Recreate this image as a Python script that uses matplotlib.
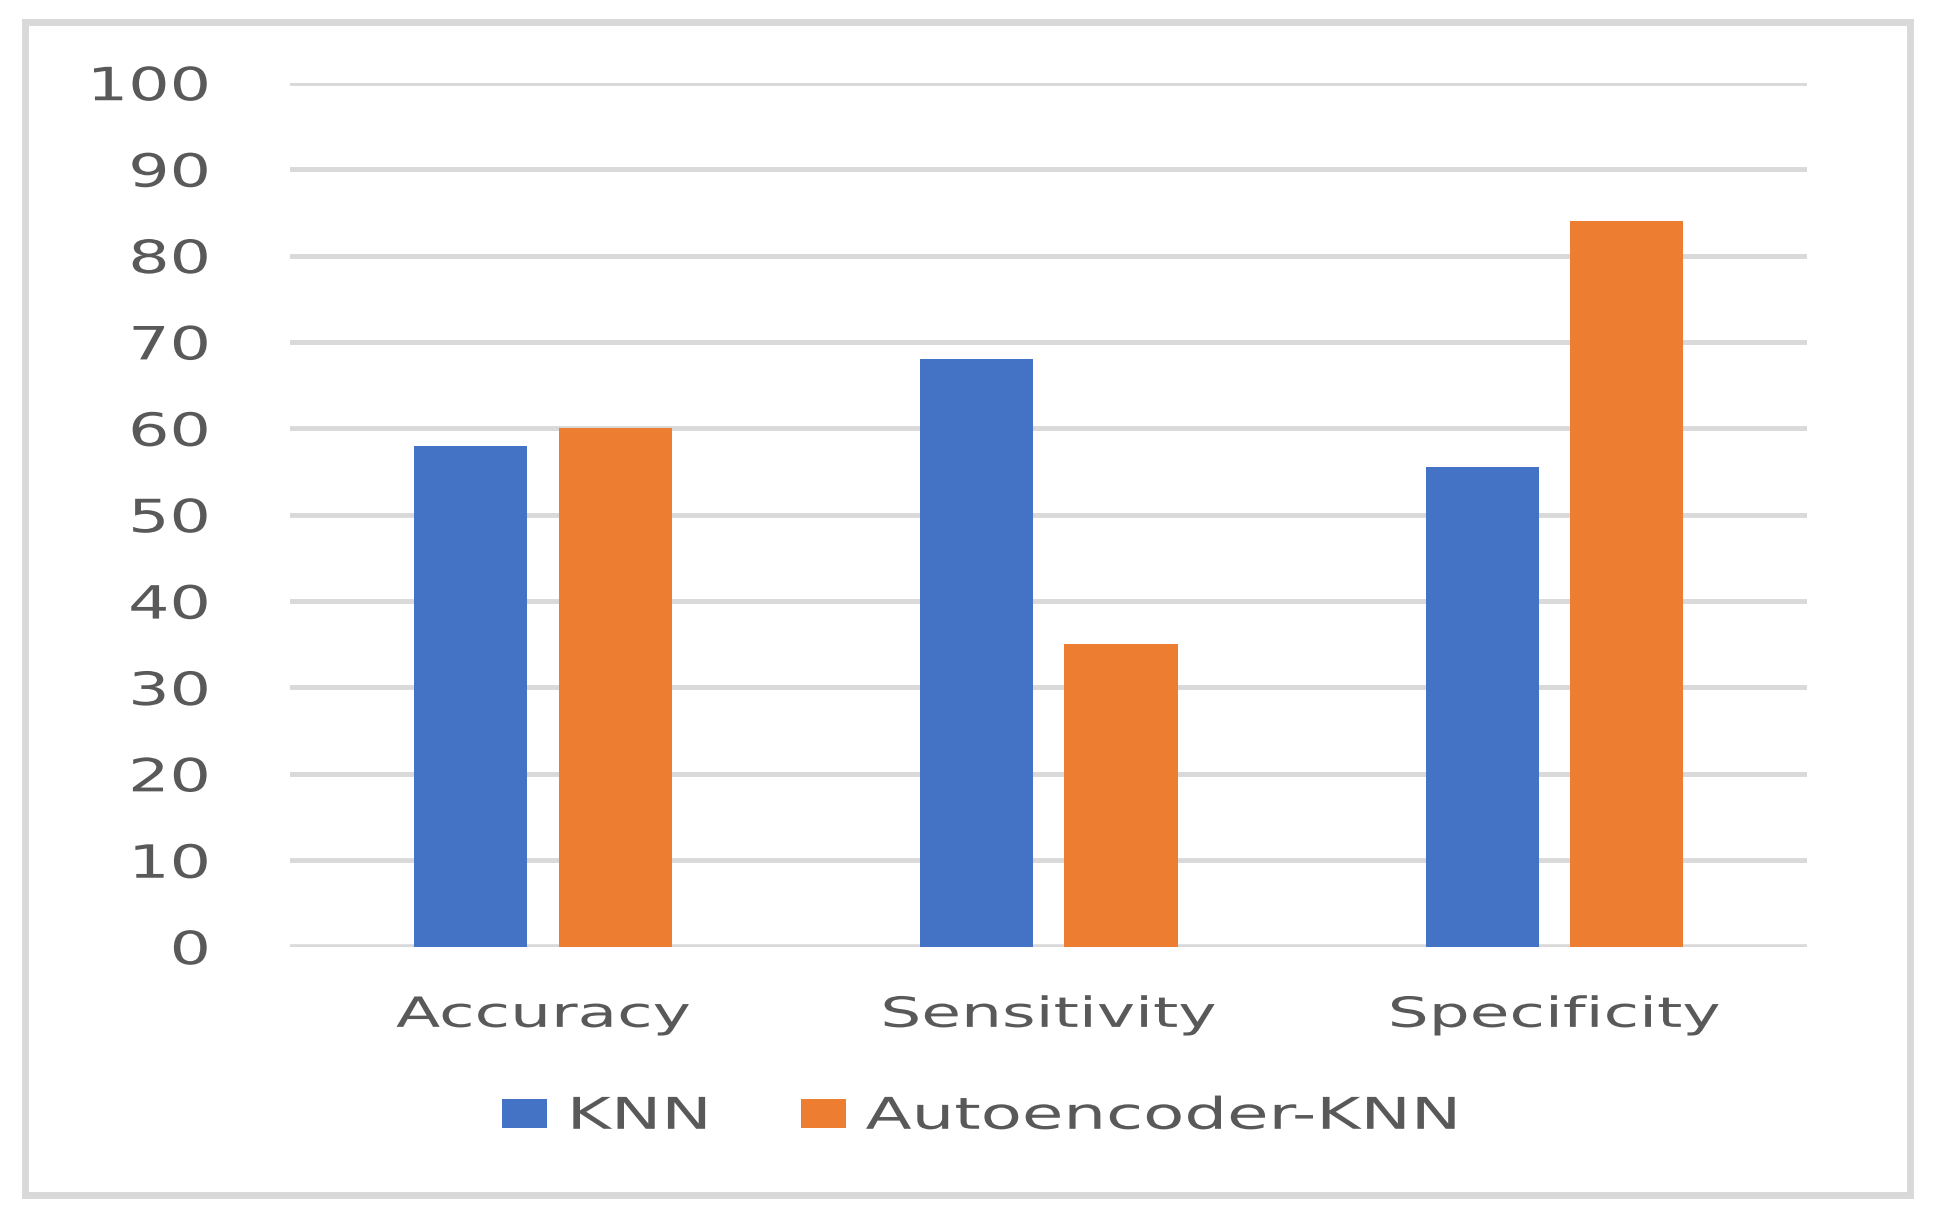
import numpy as np
import matplotlib
matplotlib.use("Agg")
from matplotlib import pyplot as plt
from matplotlib.patches import Rectangle
from matplotlib.patheffects import AbstractPathEffect
from matplotlib.transforms import Affine2D

categories = ['Accuracy', 'Sensitivity', 'Specificity']
knn = [58, 68, 55.5]
ae_knn = [60, 35, 84]
series_names = ['KNN', 'Autoencoder-KNN']
yticks = [0, 10, 20, 30, 40, 50, 60, 70, 80, 90, 100]

blue = '#4472c4'
orange = '#ed7d31'
grey_txt = '#595959'
grid_col = '#d9d9d9'


# the original picture is stretched sideways, text too: widen the glyphs
class Widen(AbstractPathEffect):
    def __init__(self, sx, anchor='center'):
        super().__init__()
        self.sx = sx
        self.anchor = anchor

    def draw_path(self, renderer, gc, tpath, affine, rgbFace=None):
        ext = tpath.get_extents()
        if self.anchor == 'right':
            x0 = ext.x1
        elif self.anchor == 'left':
            x0 = 0
        else:
            x0 = (ext.x0 + ext.x1) / 2
        t = Affine2D().translate(-x0, 0).scale(self.sx, 1).translate(x0, 0) + affine
        renderer.draw_path(gc, tpath, t, rgbFace)


plt.rcParams['font.family'] = ['DejaVu Sans']

fig = plt.figure(figsize=(19.35, 12.24), dpi=100)
ax = fig.add_axes([0.150, 0.2266, 0.784, 0.7058])

x = np.arange(len(categories))
w = 0.224
b1 = ax.bar(x - 0.143, knn, w, color=blue, label=series_names[0], zorder=3)
b2 = ax.bar(x + 0.143, ae_knn, w, color=orange, label=series_names[1], zorder=3)

ax.set_xlim(-0.5, 2.5)
ax.set_ylim(0, 100)
ax.set_yticks(yticks)
ax.set_xticks(x)
ax.set_xticklabels(categories)
ax.yaxis.grid(True, color=grid_col, linewidth=3.5, zorder=0)
ax.set_axisbelow(True)
for s in ax.spines.values():
    s.set_visible(False)
ax.tick_params(axis='both', length=0, colors=grey_txt)
ax.tick_params(axis='y', labelsize=33, pad=58)
ax.tick_params(axis='x', labelsize=30, pad=34)
ax.axhline(0, color=grid_col, linewidth=4, zorder=2)

for lbl in ax.get_yticklabels():
    lbl.set_path_effects([Widen(1.42, 'right')])
for lbl in ax.get_xticklabels():
    lbl.set_path_effects([Widen(1.55, 'center')])

leg = fig.legend(handles=[b1, b2], labels=series_names, loc='center left',
                 bbox_to_anchor=(502 / 1935, 0.088), ncol=2, frameon=False,
                 fontsize=31.5, labelcolor=grey_txt, handlelength=1.03,
                 handleheight=0.62, handletextpad=0.45, columnspacing=3.2,
                 borderpad=0, borderaxespad=0)
for t in leg.get_texts():
    t.set_path_effects([Widen(1.54, 'left')])

# outer frame
fig.patches.append(Rectangle((25 / 1935, 1 - 1195 / 1224), 1885 / 1935, 1173 / 1224,
                             transform=fig.transFigure, fill=False,
                             edgecolor=grid_col, linewidth=5))

fig.savefig('out.png', dpi=100, facecolor='white')
